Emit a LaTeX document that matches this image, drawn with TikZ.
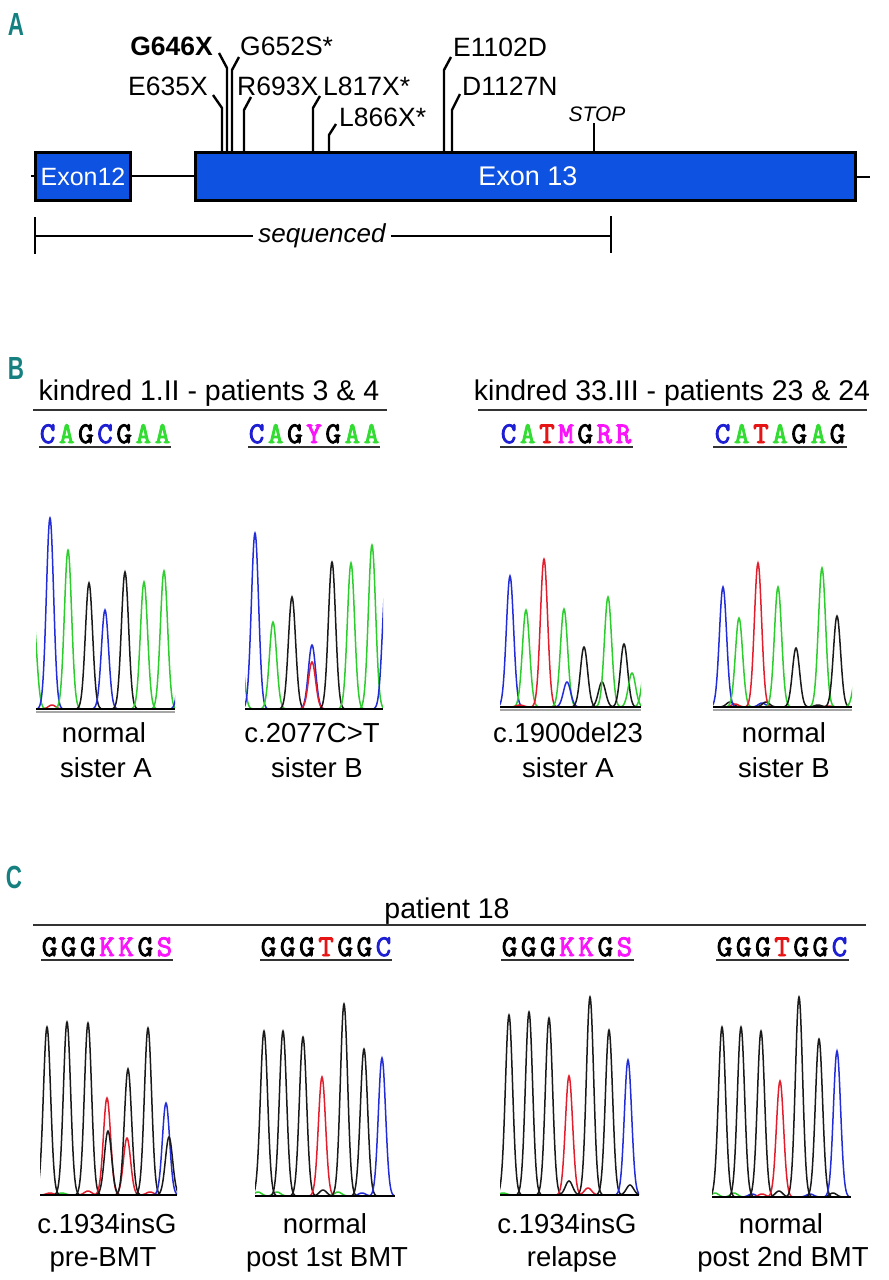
\documentclass[tikz,border=0pt]{standalone}
\usepackage{fontspec}
\setmainfont{Liberation Sans}
\newfontfamily\seqfont{Latin Modern Mono}[FakeBold=3]
\definecolor{exblue}{RGB}{14,82,226}
\definecolor{tealx}{RGB}{22,128,128}
\definecolor{tb}{RGB}{35,45,215}
\definecolor{tg}{RGB}{45,205,45}
\definecolor{tr}{RGB}{225,30,45}
\definecolor{tk}{RGB}{25,25,25}
\definecolor{sb}{RGB}{30,30,210}
\definecolor{sg}{RGB}{50,220,50}
\definecolor{sr}{RGB}{230,20,20}
\definecolor{sm}{RGB}{250,20,250}
\definecolor{sk}{RGB}{0,0,0}
\newcommand\pk[4]{\draw[trace,#4] plot[domain=-12:12,samples=41,smooth] ({#1+\x},{#3-(#3-#2)*exp(-((\x)*(\x))/26)});}
\newcommand\seqrow[4]{\foreach \cc/\ll [count=\i from 0] in {#4} {\node[seqch, text=\cc] (#1-\i) at ({#2+9.6+\i*19.15},#3) {\ll};}}
\tikzset{
  lab/.style={font=\fontsize{26.5}{30}\selectfont, inner sep=0pt},
  txt/.style={font=\fontsize{27.5}{30}\selectfont, inner sep=0pt, anchor=base},
  ttl/.style={font=\fontsize{28.5}{30}\selectfont, inner sep=0pt, anchor=base},
  seqch/.style={font=\seqfont\bfseries\fontsize{30}{32}\selectfont, inner sep=0pt, anchor=base},
  panel/.style={font=\bfseries\fontsize{32}{34}\selectfont, text=tealx, inner sep=0pt, xscale=0.7},
  mtick/.style={line width=2.4pt},
  uline/.style={line width=1.6pt, black!80},
  trace/.style={line width=1.5pt},
  exonbox/.style={draw=black, line width=3pt, fill=exblue},
  base1/.style={line width=1.4pt, black},
  base2/.style={line width=1.4pt, black!35}
}
\begin{document}
\begin{tikzpicture}[x=1pt,y=-1pt]
\useasboundingbox (0,0) rectangle (889,1280);
% ---------------- Panel A ----------------
\node[panel] (pA) at (16,24) {A};
\draw[line width=2pt] (31,176) -- (35,176);
\draw[line width=2pt] (130,176) -- (195,176);
\draw[line width=2pt] (855,177) -- (870,177);
\draw[exonbox] (35,152) rectangle (130,200);
\draw[exonbox] (195,152) rectangle (855,200);
\node[lab, text=white, anchor=base, font=\fontsize{25}{30}\selectfont] (ex12) at (83,185) {Exon12};
\node[lab, text=white, anchor=base, font=\fontsize{27}{30}\selectfont] (ex13) at (528,185) {Exon 13};
% mutation ticks
\draw[mtick] (222,151) -- (222,108) -- (213,95);
\draw[mtick] (227,151) -- (227,68) -- (219,53);
\draw[mtick] (232,151) -- (232,70) -- (239,57);
\draw[mtick] (244,151) -- (244,110) -- (251,97);
\draw[mtick] (313,151) -- (313,108) -- (320,96);
\draw[mtick] (329,151) -- (329,135) -- (336,124);
\draw[mtick] (444,151) -- (444,70) -- (451,57);
\draw[mtick] (452,151) -- (452,110) -- (460,94);
\draw[mtick] (594,151) -- (594,123);
\node[lab, anchor=base east] (m1) at (208,95) {E635X};
\node[lab, anchor=base east, font=\bfseries\fontsize{26.5}{30}\selectfont] (m2) at (213,55) {G646X};
\node[lab, anchor=base west] (m3) at (240,55) {G652S*};
\node[lab, anchor=base west] (m4) at (237,95) {R693X};
\node[lab, anchor=base west] (m5) at (323,95) {L817X*};
\node[lab, anchor=base west] (m6) at (339,126) {L866X*};
\node[lab, anchor=base west] (m7) at (453,56) {E1102D};
\node[lab, anchor=base west] (m8) at (462,95) {D1127N};
\node[lab, anchor=base, font=\itshape\fontsize{21}{24}\selectfont] (stop) at (597,121) {STOP};
% sequenced bracket
\coordinate (sqL) at (35,236);
\coordinate (sqR) at (611,236);
\node[inner sep=0pt, font=\itshape\fontsize{26}{30}\selectfont] (sqt) at (322,236) {\strut sequenced};
\draw[line width=1.6pt] (35,217) -- (35,254);
\draw[line width=1.6pt] (611,216) -- (611,253);
\draw[line width=1.6pt] (sqL) -- ([xshift=-5pt]sqt.west |- sqL);
\draw[line width=1.6pt] ([xshift=5pt]sqt.east |- sqR) -- (sqR);
% ---------------- Panel B ----------------
\node[panel] (pB) at (16,368) {B};
\node[ttl] (k1) at (209,400) {kindred 1.II - patients 3 \& 4};
\node[ttl] (k2) at (672,400) {kindred 33.III - patients 23 \& 24};
\draw[uline] (33,410) -- (387,410);
\draw[uline] (478,410) -- (867,410);
\seqrow{sB1}{38}{443}{sb/C,sg/A,sk/G,sb/C,sk/G,sg/A,sg/A}
\seqrow{sB2}{247}{443}{sb/C,sg/A,sk/G,sm/Y,sk/G,sg/A,sg/A}
\seqrow{sB3}{499}{443}{sb/C,sg/A,sr/T,sm/M,sk/G,sm/R,sm/R}
\seqrow{sB4}{713}{443}{sb/C,sg/A,sr/T,sg/A,sk/G,sg/A,sk/G}
\draw[uline] (39,447) -- (171,447);
\draw[uline] (248,447) -- (380,447);
\draw[uline] (500,447) -- (633,447);
\draw[uline] (713,447) -- (847,447);
% chromatogram B1
\begin{scope}
\clip (36,480) rectangle (175,712);
\pk{33}{615}{709}{tg}
\pk{52}{705}{709}{tr}
\pk{50}{518}{709}{tb}
\pk{68}{550}{709}{tg}
\pk{89}{583}{709}{tk}
\pk{105}{610}{709}{tb}
\pk{125}{572}{709}{tk}
\pk{144}{582}{709}{tg}
\pk{164}{571}{709}{tg}
\pk{183}{620}{709}{tb}
\end{scope}
\draw[base2] (36,712) -- (175,712);
\draw[base1] (36,709) -- (175,709);
% chromatogram B2
\begin{scope}
\clip (245,480) rectangle (383,712);
\pk{240}{640}{709}{tg}
\pk{255}{533}{709}{tb}
\pk{273}{622}{709}{tg}
\pk{292}{597}{709}{tk}
\pk{312}{645}{709}{tb}
\pk{312}{662}{709}{tr}
\pk{332}{562}{709}{tk}
\pk{351}{563}{709}{tg}
\pk{372}{545}{709}{tg}
\pk{386}{580}{709}{tb}
\end{scope}
\draw[base1] (245,709) -- (383,709);
% chromatogram B3
\begin{scope}
\clip (500,480) rectangle (641,710);
\pk{510}{576}{707}{tb}
\pk{526}{610}{707}{tg}
\pk{544}{559}{707}{tr}
\pk{564}{609}{707}{tg}
\pk{567}{682}{707}{tb}
\pk{584}{647}{707}{tk}
\pk{602}{682}{707}{tk}
\pk{608}{597}{707}{tg}
\pk{624}{644}{707}{tk}
\pk{632}{673}{707}{tg}
\pk{646}{660}{707}{tg}
\pk{520}{705}{707}{tr}
\end{scope}
\draw[base2] (500,710) -- (641,710);
\draw[base1] (500,707) -- (641,707);
% chromatogram B4
\begin{scope}
\clip (713,480) rectangle (852,710);
\pk{730}{702}{707}{tk}
\pk{735}{704}{707}{tr}
\pk{762}{703}{707}{tb}
\pk{766}{702}{707}{tk}
\pk{818}{705}{707}{tk}
\pk{829}{706}{707}{tr}
\pk{723}{587}{707}{tb}
\pk{739}{618}{707}{tg}
\pk{758}{563}{707}{tr}
\pk{778}{587}{707}{tg}
\pk{796}{648}{707}{tk}
\pk{822}{568}{707}{tg}
\pk{837}{616}{707}{tk}
\pk{857}{670}{707}{tg}
\end{scope}
\draw[base2] (713,710) -- (852,710);
\draw[base1] (713,707) -- (852,707);
% labels B
\node[txt] (lb1a) at (104,742) {normal};
\node[txt] (lb1b) at (106,777) {sister A};
\node[txt] (lb2a) at (312,742) {c.2077C>T};
\node[txt] (lb2b) at (317,777) {sister B};
\node[txt] (lb3a) at (568,742) {c.1900del23};
\node[txt] (lb3b) at (568,777) {sister A};
\node[txt] (lb4a) at (784,742) {normal};
\node[txt] (lb4b) at (784,777) {sister B};
% ---------------- Panel C ----------------
\node[panel] (pC) at (14,877) {C};
\node[ttl] (p18) at (447,918) {patient 18};
\draw[uline] (33,925) -- (866,925);
\seqrow{sC1}{40}{956}{sk/G,sk/G,sk/G,sm/K,sm/K,sk/G,sm/S}
\seqrow{sC2}{259}{956}{sk/G,sk/G,sk/G,sr/T,sk/G,sk/G,sb/C}
\seqrow{sC3}{500}{956}{sk/G,sk/G,sk/G,sm/K,sm/K,sk/G,sm/S}
\seqrow{sC4}{715}{956}{sk/G,sk/G,sk/G,sr/T,sk/G,sk/G,sb/C}
\draw[uline] (41,960) -- (173,960);
\draw[uline] (260,960) -- (392,960);
\draw[uline] (501,960) -- (634,960);
\draw[uline] (716,960) -- (849,960);
% chromatogram C1
\begin{scope}
\clip (40,980) rectangle (177,1198);
\pk{50}{1193}{1195}{tr}
\pk{62}{1193}{1195}{tg}
\pk{88}{1191}{1195}{tr}
\pk{150}{1192}{1195}{tr}
\pk{47}{1027}{1195}{tk}
\pk{67}{1022}{1195}{tk}
\pk{88}{1023}{1195}{tk}
\pk{107}{1098}{1195}{tr}
\pk{108}{1131}{1195}{tk}
\pk{127}{1138}{1195}{tr}
\pk{128}{1069}{1195}{tk}
\pk{148}{1028}{1195}{tk}
\pk{166}{1103}{1195}{tb}
\pk{169}{1137}{1195}{tk}
\end{scope}
\draw[base1] (40,1195) -- (177,1195);
% chromatogram C2
\begin{scope}
\clip (255,980) rectangle (395,1199);
\pk{258}{1192}{1196}{tg}
\pk{277}{1192}{1196}{tg}
\pk{323}{1190}{1196}{tk}
\pk{338}{1192}{1196}{tg}
\pk{362}{1193}{1196}{tb}
\pk{264}{1031}{1196}{tk}
\pk{283}{1031}{1196}{tk}
\pk{303}{1037}{1196}{tk}
\pk{322}{1077}{1196}{tr}
\pk{344}{1004}{1196}{tk}
\pk{364}{1049}{1196}{tk}
\pk{382}{1058}{1196}{tb}
\end{scope}
\draw[base1] (255,1196) -- (395,1196);
% chromatogram C3
\begin{scope}
\clip (500,980) rectangle (639,1198);
\pk{503}{1193}{1195}{tg}
\pk{588}{1188}{1195}{tr}
\pk{509}{1015}{1195}{tk}
\pk{529}{1012}{1195}{tk}
\pk{549}{1018}{1195}{tk}
\pk{569}{1076}{1195}{tr}
\pk{569}{1181}{1195}{tk}
\pk{590}{997}{1195}{tk}
\pk{609}{1030}{1195}{tk}
\pk{628}{1060}{1195}{tb}
\pk{630}{1185}{1195}{tk}
\end{scope}
\draw[base1] (500,1195) -- (639,1195);
% chromatogram C4
\begin{scope}
\clip (712,980) rectangle (851,1200);
\pk{715}{1193}{1197}{tg}
\pk{734}{1193}{1197}{tg}
\pk{752}{1194}{1197}{tb}
\pk{762}{1194}{1197}{tr}
\pk{779}{1191}{1197}{tk}
\pk{810}{1194}{1197}{tb}
\pk{833}{1193}{1197}{tk}
\pk{722}{1027}{1197}{tk}
\pk{741}{1027}{1197}{tk}
\pk{761}{1031}{1197}{tk}
\pk{780}{1081}{1197}{tr}
\pk{799}{997}{1197}{tk}
\pk{819}{1039}{1197}{tk}
\pk{837}{1051}{1197}{tb}
\end{scope}
\draw[base1] (712,1197) -- (851,1197);
% labels C
\node[txt] (lc1a) at (107,1233) {c.1934insG};
\node[txt] (lc1b) at (103,1266) {pre-BMT};
\node[txt] (lc2a) at (325,1233) {normal};
\node[txt] (lc2b) at (327,1266) {post 1st BMT};
\node[txt] (lc3a) at (567,1233) {c.1934insG};
\node[txt] (lc3b) at (572,1266) {relapse};
\node[txt] (lc4a) at (781,1233) {normal};
\node[txt] (lc4b) at (783,1266) {post 2nd BMT};
\end{tikzpicture}
\end{document}
